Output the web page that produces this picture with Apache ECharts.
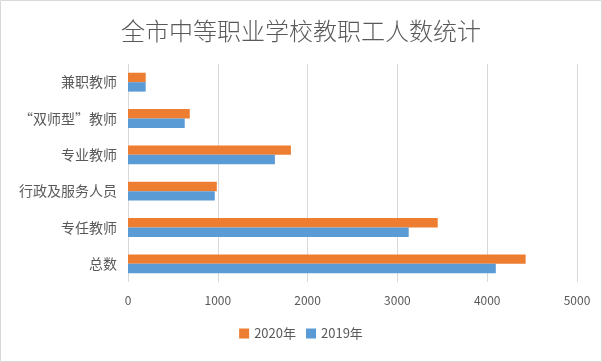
<!DOCTYPE html>
<html>
<head>
<meta charset="utf-8">
<script src="https://cdn.jsdelivr.net/npm/echarts@6/dist/echarts.min.js"></script>
<style>
html,body{margin:0;padding:0;background:#fff;}
#chart{width:602px;height:362px;}
</style>
</head>
<body>
<div id="chart"></div>
<script>
// Categories listed bottom to top
var categories = ['总数', '专任教师', '行政及服务人员', '专业教师', '“双师型”教师', '兼职教师'];
var values2019 = [4096, 3126, 966, 1636, 632, 197];
var values2020 = [4428, 3449, 989, 1814, 688, 197];
var xTicks = { min: 0, max: 5000, interval: 1000 };
var titleText = '全市中等职业学校教职工人数统计';

var font = '"Noto Sans CJK SC", "Microsoft YaHei", sans-serif';
var chart = echarts.init(document.getElementById('chart'), null, {renderer: 'canvas'});
chart.setOption({
  backgroundColor: '#ffffff',
  animation: false,
  title: {
    text: titleText,
    left: 'center',
    top: 14,
    textStyle: { fontFamily: font, fontSize: 24, fontWeight: 300, color: '#595959' }
  },
  legend: {
    data: ['2020年', '2019年'],
    bottom: 17,
    left: 'center',
    itemWidth: 10,
    itemHeight: 10,
    itemGap: 10,
    icon: 'rect',
    textStyle: { fontFamily: font, fontSize: 13, color: '#595959' }
  },
  grid: { left: 128, right: 25, top: 64, bottom: 80, containLabel: false },
  xAxis: {
    type: 'value',
    min: xTicks.min, max: xTicks.max, interval: xTicks.interval,
    axisLine: { show: false },
    axisTick: { show: false },
    splitLine: { lineStyle: { color: '#d9d9d9', width: 1 } },
    axisLabel: { fontFamily: font, fontSize: 12, color: '#595959', margin: 12, formatter: function (v) { return String(v); } }
  },
  yAxis: {
    type: 'category',
    data: categories,
    axisLine: { show: false },
    axisTick: { show: false },
    axisLabel: { fontFamily: font, fontSize: 14, color: '#595959', margin: 11 }
  },
  series: [
    { name: '2020年', type: 'bar', data: values2020, itemStyle: { color: '#ED7D31' }, barGap: '0%', barCategoryGap: '48%' },
    { name: '2019年', type: 'bar', data: values2019, itemStyle: { color: '#5B9BD5' }, barGap: '0%', barCategoryGap: '48%' }
  ],
  graphic: [{
    type: 'rect',
    shape: { x: 0.5, y: 0.5, width: 601, height: 361 },
    style: { fill: 'none', stroke: '#d9d9d9', lineWidth: 1 },
    silent: true
  }]
});
</script>
</body>
</html>
